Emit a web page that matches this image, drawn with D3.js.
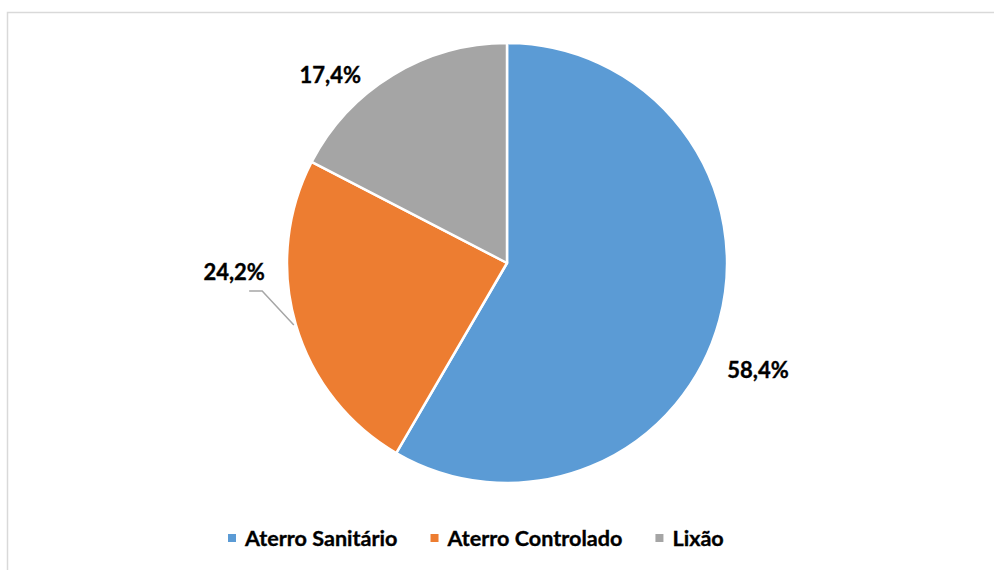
<!DOCTYPE html>
<html>
<head>
<meta charset="utf-8">
<script src="https://cdn.jsdelivr.net/npm/d3@7"></script>
<style>
  html, body { margin: 0; padding: 0; background: #fff; }
  svg { display: block; }
  text { font-family: Lato, "Open Sans", sans-serif; font-weight: 700; fill: #000; stroke: #000; stroke-width: 0.35px; }
</style>
</head>
<body>
<svg id="chart" width="994" height="570"></svg>
<script>
// data
const categories = ["Aterro Sanitário", "Aterro Controlado", "Lixão"];
const shares = [58.4, 24.2, 17.4];
const colors = ["#5b9bd5", "#ed7d31", "#a5a5a5"];

const ctx = {
    WIDTH: 994,
    HEIGHT: 570,
    CX: 507,
    CY: 263,
    RADIUS: 220,
    FONT_SIZE: "22px",
    LEGEND_FONT_SIZE: "21.6px",
    LEGEND_X: 228,
    LEGEND_Y: 538,
};

// label placement: radius from centre and angle shift (deg) from slice mid angle
const labelLayout = [
    { r: 273, shift: 8.0, leader: false },
    { r: 273, shift: 14.2, leader: true },
    { r: 258, shift: -11.9, leader: false },
];

const svg = d3.select("#chart");

// chart frame
svg.append("rect")
    .attr("x", 7.5)
    .attr("y", 12.5)
    .attr("width", 994)
    .attr("height", 600)
    .attr("fill", "none")
    .attr("stroke", "#d9d9d9")
    .attr("stroke-width", 1.5);

const pie = d3.pie().sort(null).value(d => d);
const arcs = pie(shares);
const arc = d3.arc().innerRadius(0).outerRadius(ctx.RADIUS);

const g = svg.append("g").attr("transform", `translate(${ctx.CX},${ctx.CY})`);

g.selectAll("path.slice")
    .data(arcs)
    .enter()
    .append("path")
    .attr("class", "slice")
    .attr("d", arc)
    .attr("fill", (d, i) => colors[i])
    .attr("stroke", "#fff")
    .attr("stroke-width", 2.5)
    .attr("stroke-linejoin", "round");

function polar(r, a) {
    return [r * Math.sin(a), -r * Math.cos(a)];
}

arcs.forEach((d, i) => {
    const mid = (d.startAngle + d.endAngle) / 2;
    const lay = labelLayout[i];
    const [lx, ly] = polar(lay.r, mid + lay.shift * Math.PI / 180);
    const label = d3.format(".1f")(shares[i]).replace(".", ",") + "%";

    if (lay.leader) {
        // leader line from slice edge to label
        const [ex, ey] = polar(ctx.RADIUS + 2, mid);
        const bx = lx + 28, by = ly + 18.5;
        g.append("polyline")
            .attr("points", `${ex},${ey} ${bx},${by} ${bx - 13},${by}`)
            .attr("fill", "none")
            .attr("stroke", "#a6a6a6")
            .attr("stroke-width", 1.5);
    }

    g.append("text")
        .attr("x", lx)
        .attr("y", ly)
        .attr("dy", "0.36em")
        .attr("text-anchor", "middle")
        .style("font-size", ctx.FONT_SIZE)
        .text(label);
});

// legend
const legend = svg.append("g");
const legendItems = legend.selectAll("g.item")
    .data(categories)
    .enter()
    .append("g")
    .attr("class", "item");

legendItems.append("rect")
    .attr("width", 8)
    .attr("height", 8)
    .attr("y", ctx.LEGEND_Y - 4)
    .attr("fill", (d, i) => colors[i]);

legendItems.append("text")
    .attr("x", 17)
    .attr("y", ctx.LEGEND_Y)
    .attr("dy", "0.36em")
    .style("font-size", ctx.LEGEND_FONT_SIZE)
    .text(d => d);

// lay legend items out side by side
const gap = 33;
let widths = [];
legendItems.each(function () { widths.push(this.getBBox().width); });
let x0 = ctx.LEGEND_X;
legendItems.attr("transform", (d, i) => {
    const t = `translate(${x0},0)`;
    x0 += widths[i] + gap;
    return t;
});
</script>
</body>
</html>
